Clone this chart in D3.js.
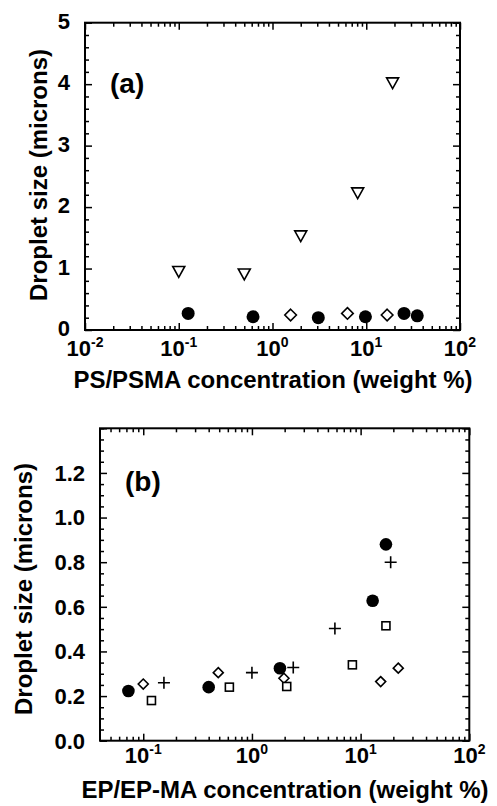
<!DOCTYPE html>
<html><head><meta charset="utf-8">
<script src="https://cdn.jsdelivr.net/npm/d3@7"></script>
<style>
html,body{margin:0;padding:0;background:#fff;}
svg{display:block;font-family:"Liberation Sans",Arial,Helvetica,sans-serif;font-weight:bold;}
</style></head>
<body>
<script>
// ---- Panel (a) data: PS/PSMA ----
const aTriX = [0.1, 0.5, 2.0, 8.1, 19.1];
const aTriY = [0.95, 0.91, 1.53, 2.23, 4.02];
const aCircX = [0.126, 0.62, 3.08, 9.8, 25.3, 35];
const aCircY = [0.27, 0.216, 0.20, 0.216, 0.27, 0.23];
const aDiaX = [1.56, 6.3, 16.7];
const aDiaY = [0.244, 0.27, 0.244];
const aYTicks = [0, 1, 2, 3, 4, 5];
const aXTicks = [0.01, 0.1, 1, 10, 100];
const aXExp = ["-2", "-1", "0", "1", "2"];

// ---- Panel (b) data: EP/EP-MA ----
const bCircX = [0.073, 0.40, 1.81, 12.9, 17.1];
const bCircY = [0.223, 0.24, 0.325, 0.627, 0.88];
const bPlusX = [0.155, 1.0, 2.4, 5.8, 18.9];
const bPlusY = [0.26, 0.305, 0.328, 0.503, 0.80];
const bDiaX = [0.1, 0.49, 1.97, 15.3, 22.2];
const bDiaY = [0.254, 0.305, 0.28, 0.265, 0.325];
const bSqX = [0.119, 0.62, 2.09, 8.4, 17.1];
const bSqY = [0.18, 0.24, 0.243, 0.34, 0.515];
const bYTicks = [0.0, 0.2, 0.4, 0.6, 0.8, 1.0, 1.2];
const bXTicks = [0.1, 1, 10, 100];
const bXExp = ["-1", "0", "1", "2"];

const W = 497, H = 806;
const svg = d3.select("body").append("svg").attr("width", W).attr("height", H);

function logMinors(dom) {
  const out = [];
  for (let e = -3; e <= 3; e++) {
    for (let m = 2; m <= 9; m++) {
      const v = m * Math.pow(10, e);
      if (v > dom[0] * 1.0001 && v < dom[1] * 0.9999) out.push(v);
    }
  }
  return out;
}

function panel(cfg) {
  const g = svg.append("g");
  const x = d3.scaleLog().domain(cfg.xDom).range([cfg.left, cfg.right]);
  const y = d3.scaleLinear().domain(cfg.yDom).range([cfg.bottom, cfg.top]);

  g.append("rect").attr("x", cfg.left).attr("y", cfg.top)
    .attr("width", cfg.right - cfg.left).attr("height", cfg.bottom - cfg.top)
    .attr("fill", "none").attr("stroke", "#000").attr("stroke-width", 2);

  const majX = cfg.xTicks.filter(v => v > cfg.xDom[0] * 0.999 && v < cfg.xDom[1] * 1.001);
  const minX = logMinors(cfg.xDom);
  const yMinors = d3.range(cfg.yDom[0], cfg.yDom[1] + 1e-9, cfg.yMinorStep)
    .filter(v => !cfg.yMajor.some(m => Math.abs(m - v) < 1e-6));
  const yMajAll = d3.range(cfg.yDom[0], cfg.yDom[1] + 1e-9, cfg.yMajorStep);

  function axisLines(axis, tr) {
    const a = g.append("g").attr("transform", tr).call(axis);
    a.select(".domain").remove();
    a.selectAll("text").remove();
    a.selectAll("line").attr("stroke", "#000").attr("stroke-width", 1.5);
  }
  axisLines(d3.axisBottom(x).tickValues(majX).tickSize(-7), `translate(0,${cfg.bottom})`);
  axisLines(d3.axisBottom(x).tickValues(minX).tickSize(-4), `translate(0,${cfg.bottom})`);
  axisLines(d3.axisTop(x).tickValues(majX).tickSize(-7), `translate(0,${cfg.top})`);
  axisLines(d3.axisTop(x).tickValues(minX).tickSize(-4), `translate(0,${cfg.top})`);
  axisLines(d3.axisLeft(y).tickValues(yMajAll).tickSize(-7), `translate(${cfg.left},0)`);
  axisLines(d3.axisLeft(y).tickValues(yMinors).tickSize(-4), `translate(${cfg.left},0)`);
  axisLines(d3.axisRight(y).tickValues(yMajAll).tickSize(-7), `translate(${cfg.right},0)`);
  axisLines(d3.axisRight(y).tickValues(yMinors).tickSize(-4), `translate(${cfg.right},0)`);

  g.selectAll(null).data(cfg.yMajor).enter().append("text")
    .attr("x", cfg.left - 15).attr("y", d => y(d))
    .attr("dy", cfg.yLabDy).attr("text-anchor", "end")
    .attr("font-size", 22).text(d => cfg.yFmt(d));

  const xl = g.selectAll(null).data(cfg.xTicks).enter().append("text")
    .attr("x", d => x(d)).attr("y", cfg.xLabY)
    .attr("text-anchor", "middle").attr("font-size", 22);
  xl.append("tspan").text("10");
  xl.append("tspan").attr("dy", -9).attr("font-size", 14).text((d, i) => cfg.xExp[i]);

  g.append("text").attr("x", cfg.xTitleX).attr("y", cfg.xTitleY)
    .attr("text-anchor", "middle").attr("font-size", 24).text(cfg.xTitle);
  g.append("text").attr("transform", `translate(${cfg.yTitleX},${cfg.yTitleY}) rotate(-90)`)
    .attr("text-anchor", "middle").attr("font-size", 24).text("Droplet size (microns)");

  g.append("text").attr("x", cfg.tagX).attr("y", cfg.tagY)
    .attr("font-size", 28).text(cfg.tag);

  return {g, x, y};
}

function drawCircles(p, xs, ys, r) {
  p.g.selectAll(null).data(xs).enter().append("circle")
    .attr("cx", d => p.x(d)).attr("cy", (d, i) => p.y(ys[i])).attr("r", r)
    .attr("fill", "#000");
}
function drawDiamonds(p, xs, ys, s) {
  p.g.selectAll(null).data(xs).enter().append("path")
    .attr("transform", (d, i) => `translate(${p.x(d)},${p.y(ys[i])})`)
    .attr("d", `M0,${-s}L${s},0L0,${s}L${-s},0Z`)
    .attr("fill", "#fff").attr("stroke", "#000").attr("stroke-width", 1.6);
}
function drawTriangles(p, xs, ys, s) {
  p.g.selectAll(null).data(xs).enter().append("path")
    .attr("transform", (d, i) => `translate(${p.x(d)},${p.y(ys[i])})`)
    .attr("d", `M${-s},${-s * 0.85}L${s},${-s * 0.85}L0,${s * 0.95}Z`)
    .attr("fill", "#fff").attr("stroke", "#000").attr("stroke-width", 1.6);
}
function drawSquares(p, xs, ys, s) {
  p.g.selectAll(null).data(xs).enter().append("rect")
    .attr("x", d => p.x(d) - s).attr("y", (d, i) => p.y(ys[i]) - s)
    .attr("width", 2 * s).attr("height", 2 * s)
    .attr("fill", "#fff").attr("stroke", "#000").attr("stroke-width", 1.6);
}
function drawPlus(p, xs, ys, s) {
  p.g.selectAll(null).data(xs).enter().append("path")
    .attr("transform", (d, i) => `translate(${p.x(d)},${p.y(ys[i])})`)
    .attr("d", `M${-s},0H${s}M0,${-s}V${s}`)
    .attr("fill", "none").attr("stroke", "#000").attr("stroke-width", 1.6);
}

const pa = panel({
  left: 85, right: 460, top: 22.7, bottom: 330,
  xDom: [0.01, 100], yDom: [0, 5],
  xTicks: aXTicks, xExp: aXExp,
  yMajor: aYTicks, yMajorStep: 1, yMinorStep: 0.2, yFmt: d3.format("d"), yLabDy: "0.28em",
  xLabY: 356, xTitle: "PS/PSMA concentration (weight %)", xTitleX: 273, xTitleY: 388,
  yTitleX: 46.5, yTitleY: 175, tag: "(a)", tagX: 110, tagY: 93
});
drawTriangles(pa, aTriX, aTriY, 6);
drawCircles(pa, aCircX, aCircY, 6.5);
drawDiamonds(pa, aDiaX, aDiaY, 5.8);

const pb = panel({
  left: 100, right: 469.3, top: 428.3, bottom: 740.7,
  xDom: [0.04, 100], yDom: [0, 1.4],
  xTicks: bXTicks, xExp: bXExp,
  yMajor: bYTicks, yMajorStep: 0.2, yMinorStep: 0.05, yFmt: d3.format(".1f"), yLabDy: "0.36em",
  xLabY: 763, xTitle: "EP/EP-MA concentration (weight %)", xTitleX: 285, xTitleY: 798,
  yTitleX: 31.5, yTitleY: 589, tag: "(b)", tagX: 125, tagY: 491
});
drawCircles(pb, bCircX, bCircY, 6.3);
drawPlus(pb, bPlusX, bPlusY, 6);
drawDiamonds(pb, bDiaX, bDiaY, 5);
drawSquares(pb, bSqX, bSqY, 4);
</script>
</body></html>
